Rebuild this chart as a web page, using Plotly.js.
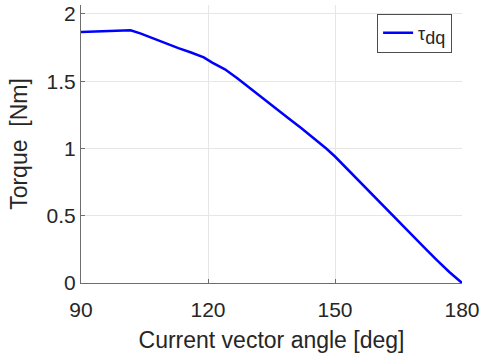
<!DOCTYPE html>
<html>
<head>
<meta charset="utf-8">
<script src="https://cdn.plot.ly/plotly-3.0.1.min.js"></script>
<style>
html,body{margin:0;padding:0;background:#fff;}
#chart{width:483px;height:358px;}
</style>
</head>
<body>
<div id="chart"></div>
<script>
// Current vector angle [deg]
const angle = [90, 95, 100, 101.7, 104, 107, 110, 113, 116, 119, 121, 124, 127, 130, 133, 136, 139, 142, 145, 148, 150, 153, 156, 159, 162, 165, 168, 171, 174, 177, 180];
// Torque [Nm]
const torque = [1.866, 1.871, 1.876, 1.878, 1.855, 1.818, 1.782, 1.745, 1.713, 1.677, 1.638, 1.588, 1.520, 1.445, 1.368, 1.295, 1.225, 1.152, 1.078, 0.998, 0.940, 0.843, 0.745, 0.647, 0.552, 0.457, 0.362, 0.266, 0.172, 0.082, 0.0];
const xTicks = [90, 120, 150, 180];
const yTicks = [0, 0.5, 1, 1.5, 2];
const seriesName = 'τ<sub><span style="font-size:18px">dq</span></sub>';

const font = 'Liberation Sans, Arial, Helvetica, sans-serif';
const txt = '#262626';

const trace = {
  x: angle, y: torque, type: 'scatter', mode: 'lines',
  name: seriesName,
  line: {color: '#0000ff', width: 2.5}
};

const layout = {
  width: 483, height: 358,
  margin: {l: 81, r: 21, t: 5, b: 75},
  paper_bgcolor: '#fff', plot_bgcolor: '#fff',
  font: {family: font, color: txt},
  showlegend: true,
  legend: {
    x: 0.974, y: 0.969, xanchor: 'right', yanchor: 'top',
    bgcolor: '#fff', bordercolor: '#4d4d4d', borderwidth: 1,
    font: {family: font, size: 18, color: txt},
    itemwidth: 30, tracegroupgap: 0
  },
  xaxis: {
    range: [90, 180], tickvals: xTicks, ticktext: xTicks.map(String),
    showgrid: true, gridcolor: '#e6e6e6', gridwidth: 1,
    zeroline: false, showline: true, linecolor: '#6e6e6e', linewidth: 1,
    ticks: 'inside', ticklen: 4, tickcolor: '#6e6e6e',
    ticklabelstandoff: 8,
    tickfont: {family: font, size: 21, color: txt},
    title: {text: 'Current vector angle [deg]', font: {family: font, size: 23, color: txt}, standoff: 11}
  },
  yaxis: {
    range: [0, 2.066], tickvals: yTicks, ticktext: yTicks.map(String),
    showgrid: true, gridcolor: '#e6e6e6', gridwidth: 1,
    zeroline: false, showline: true, linecolor: '#6e6e6e', linewidth: 1,
    ticks: 'inside', ticklen: 4, tickcolor: '#6e6e6e',
    tickfont: {family: font, size: 21, color: txt},
    title: {text: 'Torque  [Nm]', font: {family: font, size: 23, color: txt}, standoff: 12}
  }
};

Plotly.newPlot('chart', [trace], layout, {staticPlot: true, displayModeBar: false});
</script>
</body>
</html>
